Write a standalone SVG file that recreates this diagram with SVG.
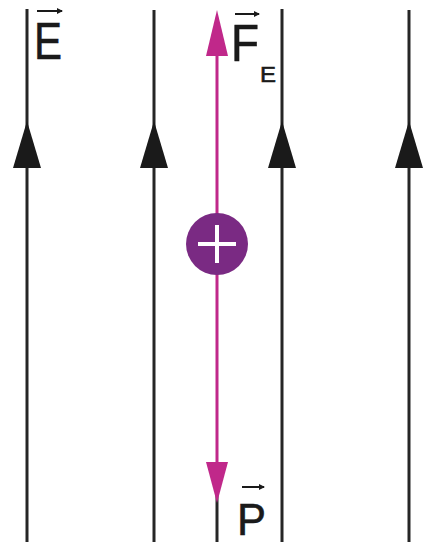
<svg xmlns="http://www.w3.org/2000/svg" width="424" height="544" viewBox="0 0 424 544">
<style>
.fl{stroke:#262626;stroke-width:3;fill:none}
.ah{fill:#1a1a1a}
.mg{stroke:#c0288a;stroke-width:3;fill:none}
.mh{fill:#c0288a}
.lb{font-family:"Liberation Sans",Arial,sans-serif;fill:#1a1a1a;stroke:#1a1a1a;stroke-width:0.6}
.vec{stroke:#1a1a1a;stroke-width:2}
</style>
<defs>
<marker id="vh" viewBox="0 0 6 6" refX="5" refY="3" markerWidth="6" markerHeight="6" markerUnits="userSpaceOnUse" orient="auto"><path d="M0,0 L6,3 L0,6 z" fill="#1a1a1a"/></marker>
</defs>
<g id="connectors">
<line class="fl" x1="27" y1="9" x2="27" y2="542"/>
<path class="ah" d="M27,121 L41,168 L13,168 z"/>
<line class="fl" x1="154" y1="10" x2="154" y2="542"/>
<path class="ah" d="M154,121 L168,168 L140,168 z"/>
<line class="fl" x1="282" y1="9" x2="282" y2="542"/>
<path class="ah" d="M282,121 L296,168 L268,168 z"/>
<line class="fl" x1="409" y1="10" x2="409" y2="542"/>
<path class="ah" d="M409,121 L423,168 L395,168 z"/>
<line class="fl" x1="217" y1="495" x2="217" y2="542"/>
<line class="mg" x1="217" y1="40" x2="217" y2="478"/>
<path class="mh" d="M217,10 L228,56 L206,56 z"/>
<path class="mh" d="M217,503 L228,462 L206,462 z"/>
</g>
<g id="charge">
<circle cx="217" cy="244" r="31" fill="#7a2a83"/>
<path d="M198,244 H236 M217,225 V263" stroke="#fff" stroke-width="4"/>
</g>
<g id="label-E">
<text class="lb" x="34" y="59" font-size="52" textLength="28" lengthAdjust="spacingAndGlyphs">E</text>
<line class="vec" x1="37" y1="11" x2="62" y2="11" marker-end="url(#vh)"/>
</g>
<g id="label-FE">
<text class="lb" x="260" y="82" font-size="22" textLength="16" lengthAdjust="spacingAndGlyphs">E</text>
<text class="lb" x="231" y="61" font-size="52" textLength="28" lengthAdjust="spacingAndGlyphs">F</text>
<line class="vec" x1="235" y1="14" x2="259" y2="14" marker-end="url(#vh)"/>
</g>
<g id="label-P">
<text class="lb" x="237" y="535" font-size="44" textLength="29" lengthAdjust="spacingAndGlyphs">P</text>
<line class="vec" x1="242" y1="487" x2="264" y2="487" marker-end="url(#vh)"/>
</g>
</svg>
